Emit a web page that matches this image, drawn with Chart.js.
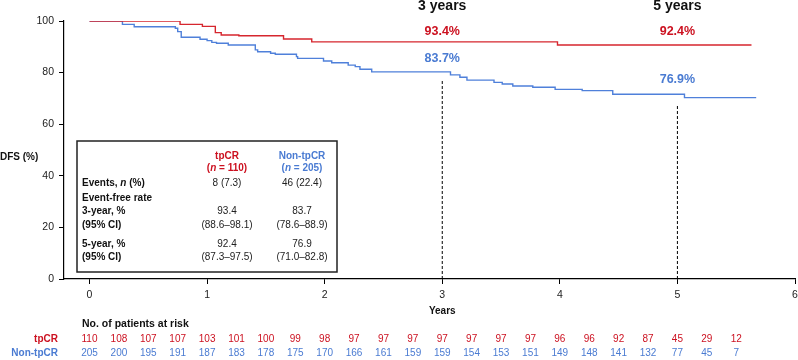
<!DOCTYPE html>
<html>
<head>
<meta charset="utf-8">
<script src="https://cdn.jsdelivr.net/npm/chart.js@4.4.1/dist/chart.umd.min.js"></script>
<style>
  html, body { margin: 0; padding: 0; background: #fff; }
</style>
</head>
<body>
<canvas id="chart_dfs" width="798" height="360"></canvas>
<script>
// Kaplan-Meier steps (years, DFS %)
var tpcrTime = [0, 0.77, 0.96, 1.07, 1.12, 1.27, 1.65, 1.89, 3.98, 5.63];
var tpcrDfs  = [100, 98.7, 97.9, 95.5, 94.6, 94.3, 93.0, 91.9, 90.7, 90.7];

var nonTime = [0, 0.28, 0.38, 0.73, 0.75, 0.78, 0.94, 1.00, 1.04, 1.08, 1.18, 1.41, 1.43, 1.54, 1.58, 1.76, 1.77,
               1.99, 2.06, 2.20, 2.26, 2.30, 2.40, 3.07, 3.15, 3.21, 3.44, 3.51, 3.60, 3.77, 3.96, 4.19, 4.45, 5.06, 5.67];
var nonDfs  = [100, 98.7, 97.8, 97.2, 95.9, 93.7, 92.9, 92.4, 91.7, 91.4, 90.7, 88.8, 88.1, 87.5, 87.1, 86.2, 85.5,
               84.5, 83.8, 82.9, 82.3, 81.3, 80.3, 79.1, 78.2, 77.1, 76.2, 75.6, 74.8, 74.3, 73.5, 73.0, 71.6, 70.3, 70.3];

// landmark markers
var landmarkYears  = [3, 5];
var landmarkTop    = [77, 67.8];
var landmarkLabels = ['3 years', '5 years'];
var tpcrLandmark   = ['93.4%', '92.4%'];
var nonLandmark    = ['83.7%', '76.9%'];

// axis ticks
var xTicks = [0, 1, 2, 3, 4, 5, 6];
var yTicks = [0, 20, 40, 60, 80, 100];

// number at risk
var riskTimes = [0, 0.25, 0.5, 0.75, 1, 1.25, 1.5, 1.75, 2, 2.25, 2.5, 2.75, 3, 3.25, 3.5, 3.75, 4, 4.25, 4.5, 4.75, 5, 5.25, 5.5];
var tpcrRisk  = [110, 108, 107, 107, 103, 101, 100, 99, 98, 97, 97, 97, 97, 97, 97, 97, 96, 96, 92, 87, 45, 29, 12];
var nonRisk   = [205, 200, 195, 191, 187, 183, 178, 175, 170, 166, 161, 159, 159, 154, 153, 151, 149, 148, 141, 132, 77, 45, 7];

// inset table
var tableHead   = [['tpCR', '110'], ['Non-tpCR', '205']];
var tableRows   = ['Events, |n| (%)', 'Event-free rate', '3-year, %', '(95% CI)', '5-year, %', '(95% CI)'];
var tableTpcr   = ['8 (7.3)', '', '93.4', '(88.6\u201398.1)', '92.4', '(87.3\u201397.5)'];
var tableNon    = ['46 (22.4)', '', '83.7', '(78.6\u201388.9)', '76.9', '(71.0\u201382.8)'];

var FONT = '"Liberation Sans", Arial, Helvetica, sans-serif';
var RED = '#cc1120';
var BLUE = '#4a7bd2';

function pts(xs, ys) {
  return xs.map(function (x, i) { return { x: x, y: ys[i] }; });
}

// draws text with |italic| parts, aligned at x
function mixedText(ctx, str, x, y, weight, size, align) {
  var parts = str.split('|');
  var fonts = parts.map(function (p, i) {
    return (i % 2 ? 'italic ' : '') + weight + ' ' + size + 'px ' + FONT;
  });
  var total = 0;
  parts.forEach(function (p, i) { ctx.font = fonts[i]; total += ctx.measureText(p).width; });
  var cx = align === 'center' ? x - total / 2 : (align === 'right' ? x - total : x);
  ctx.textAlign = 'left';
  parts.forEach(function (p, i) {
    ctx.font = fonts[i];
    ctx.fillText(p, cx, y);
    cx += ctx.measureText(p).width;
  });
}

var landmarkSets = landmarkYears.map(function (yr, i) {
  return {
    label: landmarkLabels[i],
    data: pts([yr, yr], [0, landmarkTop[i]]),
    borderColor: '#000',
    borderWidth: 1,
    borderDash: [3, 2],
    pointRadius: 0
  };
});

var chart_dfs = new Chart(document.getElementById('chart_dfs'), {
    type: 'line',
    data: {
        datasets: [
            {
                label: 'tpCR',
                data: pts(tpcrTime, tpcrDfs),
                borderColor: '#d6262e',
                borderWidth: 1.4,
                stepped: true,
                pointRadius: 0
            },
            {
                label: 'Non-tpCR',
                data: pts(nonTime, nonDfs),
                borderColor: '#4f80da',
                borderWidth: 1.4,
                stepped: true,
                pointRadius: 0
            }
        ].concat(landmarkSets)
    },
    options: {
        animation: false,
        responsive: false,
        layout: { padding: { left: 0, right: 3, top: 21, bottom: 51 } },
        plugins: {
            legend: { display: false },
            tooltip: { enabled: false }
        },
        scales: {
            x: {
                type: 'linear',
                min: -0.217,
                max: 6,
                afterBuildTicks: function (s) { s.ticks = xTicks.map(function (v) { return { value: v }; }); },
                afterFit: function (s) { s.height = 30; s.paddingLeft = 0; s.paddingRight = 0; },
                ticks: { color: '#222', font: { family: FONT, size: 10.5 }, padding: 5, maxRotation: 0, autoSkip: false },
                grid: { drawOnChartArea: false, drawTicks: true, tickLength: 5, color: '#000' },
                border: { color: '#000', width: 1.2 }
            },
            y: {
                min: 0,
                max: 100,
                afterBuildTicks: function (s) { s.ticks = yTicks.map(function (v) { return { value: v }; }); },
                afterFit: function (s) { s.width = 64; },
                ticks: { color: '#222', font: { family: FONT, size: 10.5 }, padding: 5 },
                grid: { drawOnChartArea: false, drawTicks: true, tickLength: 5, color: '#000' },
                border: { color: '#000', width: 1.2 }
            }
        }
    },
    plugins: [{
        id: 'kmText',
        afterDraw: function (chart) {
            var ctx = chart.ctx;
            var xs = chart.scales.x;
            ctx.save();
            ctx.textBaseline = 'middle';
            ctx.fillStyle = '#111';

            // axis titles
            ctx.font = 'bold 10px ' + FONT;
            ctx.textAlign = 'left';
            ctx.fillText('DFS (%)', 0, 157);
            ctx.textAlign = 'center';
            ctx.fillText('Years', xs.getPixelForValue(3), 311);

            // landmark labels
            landmarkYears.forEach(function (yr, i) {
                var px = xs.getPixelForValue(yr);
                ctx.textAlign = 'center';
                ctx.fillStyle = '#111';
                ctx.font = 'bold 14px ' + FONT;
                ctx.fillText(landmarkLabels[i], px, 6);
                ctx.font = 'bold 12.5px ' + FONT;
                ctx.fillStyle = RED;
                ctx.fillText(tpcrLandmark[i], px, 31.5);
                ctx.fillStyle = BLUE;
                ctx.fillText(nonLandmark[i], px, i === 0 ? 59 : 80);
            });

            // inset table
            ctx.fillStyle = '#fff';
            ctx.fillRect(77, 141, 260, 131);
            ctx.strokeStyle = '#222';
            ctx.lineWidth = 1.5;
            ctx.strokeRect(77, 141, 260, 131);
            var colX = [227, 302];
            var headCol = [RED, BLUE];
            tableHead.forEach(function (h, i) {
                ctx.fillStyle = headCol[i];
                ctx.font = 'bold 10px ' + FONT;
                ctx.textAlign = 'center';
                ctx.fillText(h[0], colX[i], 156);
                mixedText(ctx, '(|n| = ' + h[1] + ')', colX[i], 168.5, 'bold', 10, 'center');
            });
            var rowY = [183.5, 198.5, 211.5, 225, 244.5, 257.5];
            tableRows.forEach(function (r, i) {
                ctx.fillStyle = '#111';
                mixedText(ctx, r, 82, rowY[i], 'bold', 10, 'left');
                ctx.font = '10px ' + FONT;
                ctx.textAlign = 'center';
                ctx.fillStyle = '#222';
                ctx.fillText(tableTpcr[i], colX[0], rowY[i]);
                ctx.fillText(tableNon[i], colX[1], rowY[i]);
            });

            // number at risk
            ctx.fillStyle = '#111';
            ctx.font = 'bold 10.5px ' + FONT;
            ctx.textAlign = 'left';
            ctx.fillText('No. of patients at risk', 82, 324);
            ctx.font = 'bold 10px ' + FONT;
            ctx.textAlign = 'right';
            ctx.fillStyle = RED;
            ctx.fillText('tpCR', 58, 339.5);
            ctx.fillStyle = BLUE;
            ctx.fillText('Non-tpCR', 58, 353.5);
            ctx.font = '10px ' + FONT;
            ctx.textAlign = 'center';
            riskTimes.forEach(function (t, i) {
                var px = xs.getPixelForValue(t);
                ctx.fillStyle = RED;
                ctx.fillText(String(tpcrRisk[i]), px, 339.5);
                ctx.fillStyle = BLUE;
                ctx.fillText(String(nonRisk[i]), px, 353.5);
            });
            ctx.restore();
        }
    }]
});
</script>
</body>
</html>
